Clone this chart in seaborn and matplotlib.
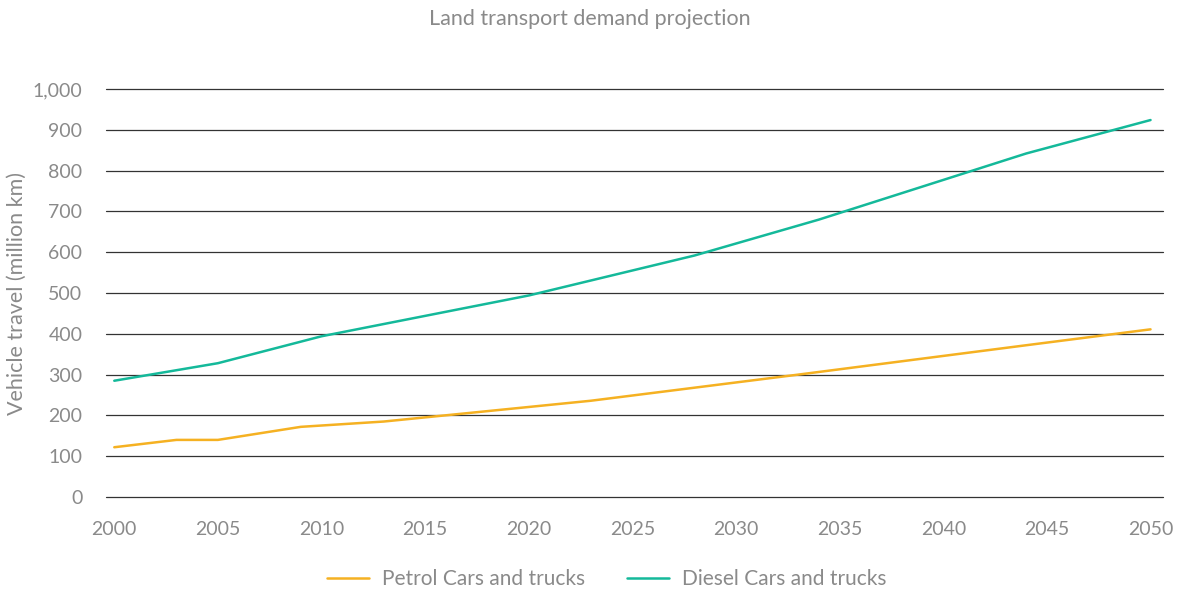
import pandas as pd
import matplotlib
matplotlib.use('Agg')
import matplotlib.pyplot as plt
import seaborn as sns
from matplotlib.ticker import FuncFormatter

# values
petrol_years = [2000, 2003, 2005, 2009, 2013, 2023, 2033, 2044, 2050]
petrol_km = [122, 140, 140, 172, 185, 236, 300, 372, 411]
diesel_years = [2000, 2005, 2010, 2020, 2028, 2034, 2044, 2050]
diesel_km = [285, 328, 394, 494, 592, 680, 842, 924]

series_names = ['Petrol Cars and trucks', 'Diesel Cars and trucks']
series_colors = ['#F5B122', '#14B99A']
x_ticks = list(range(2000, 2051, 5))
y_ticks = list(range(0, 1001, 100))

df = pd.concat([
    pd.DataFrame({'year': petrol_years, 'km': petrol_km, 'fuel': series_names[0]}),
    pd.DataFrame({'year': diesel_years, 'km': diesel_km, 'fuel': series_names[1]}),
])

sns.set_style('white')
plt.rcParams['font.family'] = ['Lato', 'DejaVu Sans']

grey = '#8a8a8a'
fig = plt.figure(figsize=(11.79, 5.90), dpi=100)
ax = fig.add_axes([0.0899, 0.1576, 0.8965, 0.6915])

# horizontal gridlines (the 0 line included, not clipped)
for y in y_ticks:
    ax.axhline(y, color='#333333', lw=0.9, zorder=0, clip_on=False)

sns.lineplot(data=df, x='year', y='km', hue='fuel', palette=series_colors,
             hue_order=series_names, linewidth=1.8, ax=ax, legend=True)

ax.set_xlim(1999.6, 2050.6)
ax.set_ylim(0, 1000)
ax.set_xticks(x_ticks)
ax.set_yticks(y_ticks)
ax.yaxis.set_major_formatter(FuncFormatter(lambda v, p: f'{int(v):,}'))
ax.tick_params(axis='both', length=0, labelsize=14, labelcolor=grey)
ax.tick_params(axis='y', pad=17)
ax.tick_params(axis='x', pad=17)
for s in ax.spines.values():
    s.set_visible(False)

ax.set_xlabel('')
ax.set_ylabel('Vehicle travel (million km)', fontsize=15.5, color=grey)
ax.yaxis.set_label_coords(-0.075, 0.5)
fig.suptitle('Land transport demand projection', y=0.985, fontsize=15.5, color=grey)

handles, labels = ax.get_legend_handles_labels()
ax.legend(handles, labels, loc='upper center', bbox_to_anchor=(0.474, -0.13),
          ncol=2, frameon=False, fontsize=15, labelcolor=grey,
          handlelength=2.0, handletextpad=0.65, columnspacing=2.0)

fig.savefig('out.png', dpi=100)
